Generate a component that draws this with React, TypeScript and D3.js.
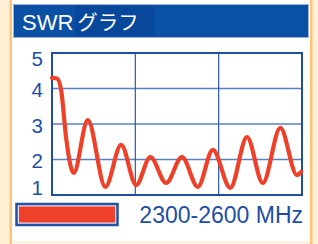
import React from "react";
import * as d3 from "d3";

const W = 318;
const H = 244;

const freqs = [2300, 2306, 2311, 2317, 2326, 2343, 2364, 2383, 2401, 2418, 2437, 2456, 2475, 2493, 2514, 2534, 2553, 2574, 2594, 2599];
const swr = [4.3, 4.28, 3.95, 2.6, 1.62, 3.11, 1.23, 2.41, 1.28, 2.07, 1.34, 2.07, 1.23, 2.27, 1.2, 2.63, 1.34, 2.89, 1.56, 1.65];
const yTicks = [1, 2, 3, 4, 5];
const xGrid = [2300, 2400, 2500, 2600];
const title = "SWR";
const titleJa = "グラフ";
const legendLabel = "2300-2600 MHz";

const BLUE = "#1f4fa3";
const RED = "#ef4129";

export default function App() {
  const left = 52, right = 302, top = 53, bottom = 195;
  const x = d3.scaleLinear().domain([2300, 2600]).range([left, right]);
  const y = d3.scaleLinear().domain([1, 5]).range([bottom, top]);
  const pts: [number, number][] = freqs.map((f, i) => [f, swr[i]]);
  const line = d3
    .line<[number, number]>()
    .x((d) => x(d[0]))
    .y((d) => y(d[1]))
    .curve(d3.curveMonotoneX);

  return (
    <svg
      width={W}
      height={H}
      style={{ position: "absolute", left: 0, top: 0, display: "block" }}
      fontFamily="'Liberation Sans', Arial, sans-serif"
    >
      <rect x={0} y={0} width={W} height={H} fill="#fef0d4" />
      <rect x={12} y={0} width={298} height={241} fill="#ffffff" />
      <rect x={9.5} y={0} width={2.5} height={244} fill="#fbc476" />
      <rect x={310} y={0} width={2.5} height={244} fill="#fbc476" />
      <rect x={12} y={241} width={298} height={3} fill="#fdf3e2" />

      {/* title bar */}
      <rect x={13.5} y={4.5} width={295} height={33} fill="#0a50a4" stroke="#9db2da" strokeWidth={1} />
      <rect x={75} y={6} width={79} height={30} fill="#08489c" />
      <text x={22} y={30} fill="#ffffff" fontSize={22}>
        {title}
        <tspan dx={4} fontFamily="'Noto Sans CJK JP', sans-serif" fontSize={20.5}>
          {titleJa}
        </tspan>
      </text>

      {/* grid */}
      {yTicks.map((t) => (
        <line key={"h" + t} x1={left} x2={right} y1={y(t)} y2={y(t)} stroke="#5b80c4" strokeWidth={1.6} />
      ))}
      {xGrid.map((f) => (
        <line key={"v" + f} x1={x(f)} x2={x(f)} y1={top} y2={bottom} stroke="#2a58ab" strokeWidth={1.2} />
      ))}
      <rect x={left} y={top} width={right - left} height={bottom - top} fill="none" stroke={BLUE} strokeWidth={2} />

      {/* y labels */}
      {yTicks.map((t) => (
        <text
          key={"l" + t}
          x={43}
          y={Math.min(188, Math.max(59, y(t) + 1.5))}
          dy="0.36em"
          textAnchor="end"
          fill={BLUE}
          fontSize={20.5}
        >
          {t}
        </text>
      ))}

      <path d={line(pts) || ""} fill="none" stroke={RED} strokeWidth={4.2} strokeLinejoin="round" strokeLinecap="round" />

      {/* legend */}
      <rect x={16.5} y={204} width={101} height={21} fill="#e9e0ee" stroke="#2552a6" strokeWidth={2.5} />
      <rect x={19} y={206.5} width={96} height={16} fill="#ef4029" />
      <text x={303} y={222.5} textAnchor="end" fill={BLUE} fontSize={23}>
        {legendLabel}
      </text>
    </svg>
  );
}
